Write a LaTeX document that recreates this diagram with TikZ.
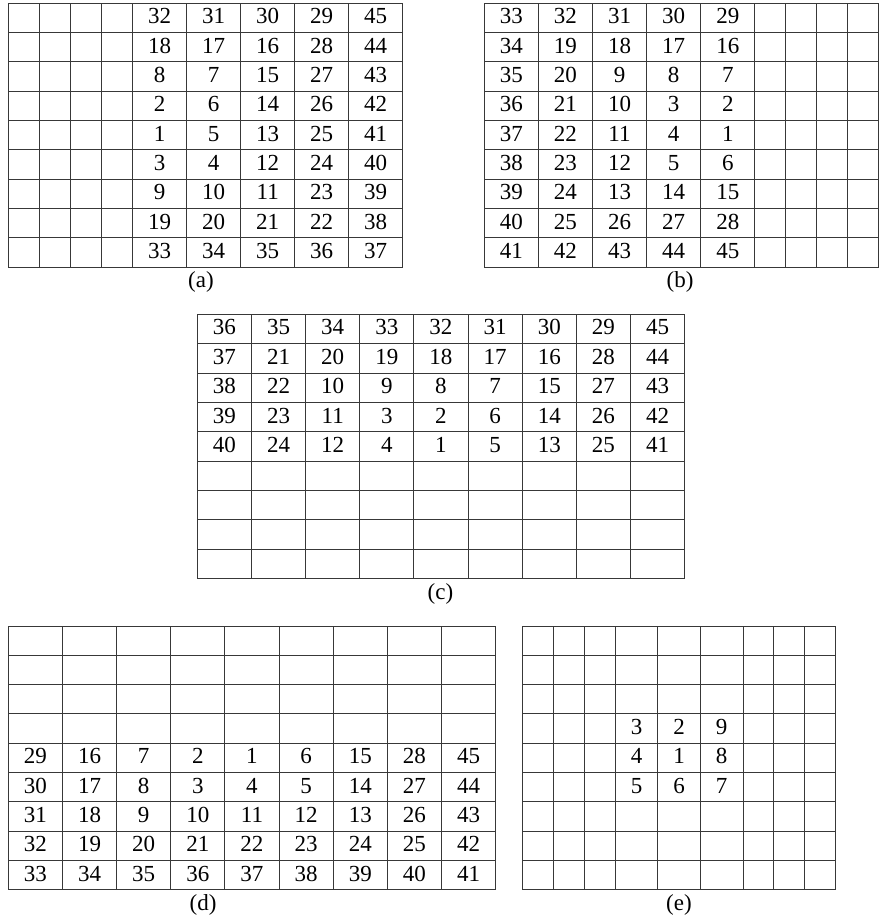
\documentclass[tikz,border=0pt]{standalone}
\usepackage{fontspec}
\setmainfont{Liberation Serif}
\begin{document}
\begin{tikzpicture}[x=1pt,y=-1pt,
  gridline/.style={draw=black!78,line width=1pt},
  num/.style={anchor=base,inner sep=0pt,font=\fontsize{23}{27}\selectfont},
  caption/.style={anchor=base,inner sep=0pt,font=\fontsize{23}{27}\selectfont}]
\useasboundingbox (0,0) rectangle (883,915);
% ---------- (a)
\foreach \k in {0,...,9} \draw[gridline] (8.3,3.3+\k*29.3) -- (402.7,3.3+\k*29.3);
\foreach \x in {8.3,39.4,70.5,101.6,132.7,186.7,240.7,294.8,348.8,402.7} \draw[gridline] (\x,3.3) -- (\x,267);
\foreach \r/\vals in {1/{32,31,30,29,45},2/{18,17,16,28,44},3/{8,7,15,27,43},4/{2,6,14,26,42},5/{1,5,13,25,41},6/{3,4,12,24,40},7/{9,10,11,23,39},8/{19,20,21,22,38},9/{33,34,35,36,37}}
  \foreach \v [count=\c] in \vals
    \node[num] (a-\r-\c) at (132.7+\c*54-27,3.3+\r*29.3-14.65+6) {\v};
\node[caption] (capa) at (201,287.3) {(a)};
% ---------- (b)
\foreach \k in {0,...,9} \draw[gridline] (484.3,3.3+\k*29.3) -- (878.7,3.3+\k*29.3);
\foreach \x in {484.3,538.4,592.5,646.6,700.7,754.8,785.8,816.7,847.7,878.7} \draw[gridline] (\x,3.3) -- (\x,267);
\foreach \r/\vals in {1/{33,32,31,30,29},2/{34,19,18,17,16},3/{35,20,9,8,7},4/{36,21,10,3,2},5/{37,22,11,4,1},6/{38,23,12,5,6},7/{39,24,13,14,15},8/{40,25,26,27,28},9/{41,42,43,44,45}}
  \foreach \v [count=\c] in \vals
    \node[num] (b-\r-\c) at (484.3+\c*54.1-27.05,3.3+\r*29.3-14.65+6) {\v};
\node[caption] (capb) at (680,287.3) {(b)};
% ---------- (c)
\foreach \k in {0,...,9} \draw[gridline] (197.3,314.3+\k*29.38) -- (684.7,314.3+\k*29.38);
\foreach \k in {0,...,9} \draw[gridline] (197.3+\k*54.15,314.3) -- (197.3+\k*54.15,578.7);
\foreach \r/\vals in {1/{36,35,34,33,32,31,30,29,45},2/{37,21,20,19,18,17,16,28,44},3/{38,22,10,9,8,7,15,27,43},4/{39,23,11,3,2,6,14,26,42},5/{40,24,12,4,1,5,13,25,41}}
  \foreach \v [count=\c] in \vals
    \node[num] (c-\r-\c) at (197.3+\c*54.15-27.075,314.3+\r*29.38-14.69+6) {\v};
\node[caption] (capc) at (440.5,599) {(c)};
% ---------- (d)
\foreach \k in {0,...,9} \draw[gridline] (8.3,626+\k*29.33) -- (495.7,626+\k*29.33);
\foreach \k in {0,...,9} \draw[gridline] (8.3+\k*54.15,626) -- (8.3+\k*54.15,890);
\foreach \r/\vals in {5/{29,16,7,2,1,6,15,28,45},6/{30,17,8,3,4,5,14,27,44},7/{31,18,9,10,11,12,13,26,43},8/{32,19,20,21,22,23,24,25,42},9/{33,34,35,36,37,38,39,40,41}}
  \foreach \v [count=\c] in \vals
    \node[num] (d-\r-\c) at (8.3+\c*54.15-27.075,626+\r*29.33-14.665+6) {\v};
\node[caption] (capd) at (203,910.3) {(d)};
% ---------- (e)
\foreach \k in {0,...,9} \draw[gridline] (522.7,626+\k*29.33) -- (835.7,626+\k*29.33);
\foreach \x in {522.7,553.6,584.4,615.3,657.9,700.4,743,773.9,804.8,835.7} \draw[gridline] (\x,626) -- (\x,890);
\foreach \r/\vals in {4/{3,2,9},5/{4,1,8},6/{5,6,7}}
  \foreach \v [count=\c] in \vals
    \node[num] (e-\r-\c) at (615.3+\c*42.57-21.285,626+\r*29.33-14.665+6) {\v};
\node[caption] (cape) at (679,910.3) {(e)};
\end{tikzpicture}
\end{document}
